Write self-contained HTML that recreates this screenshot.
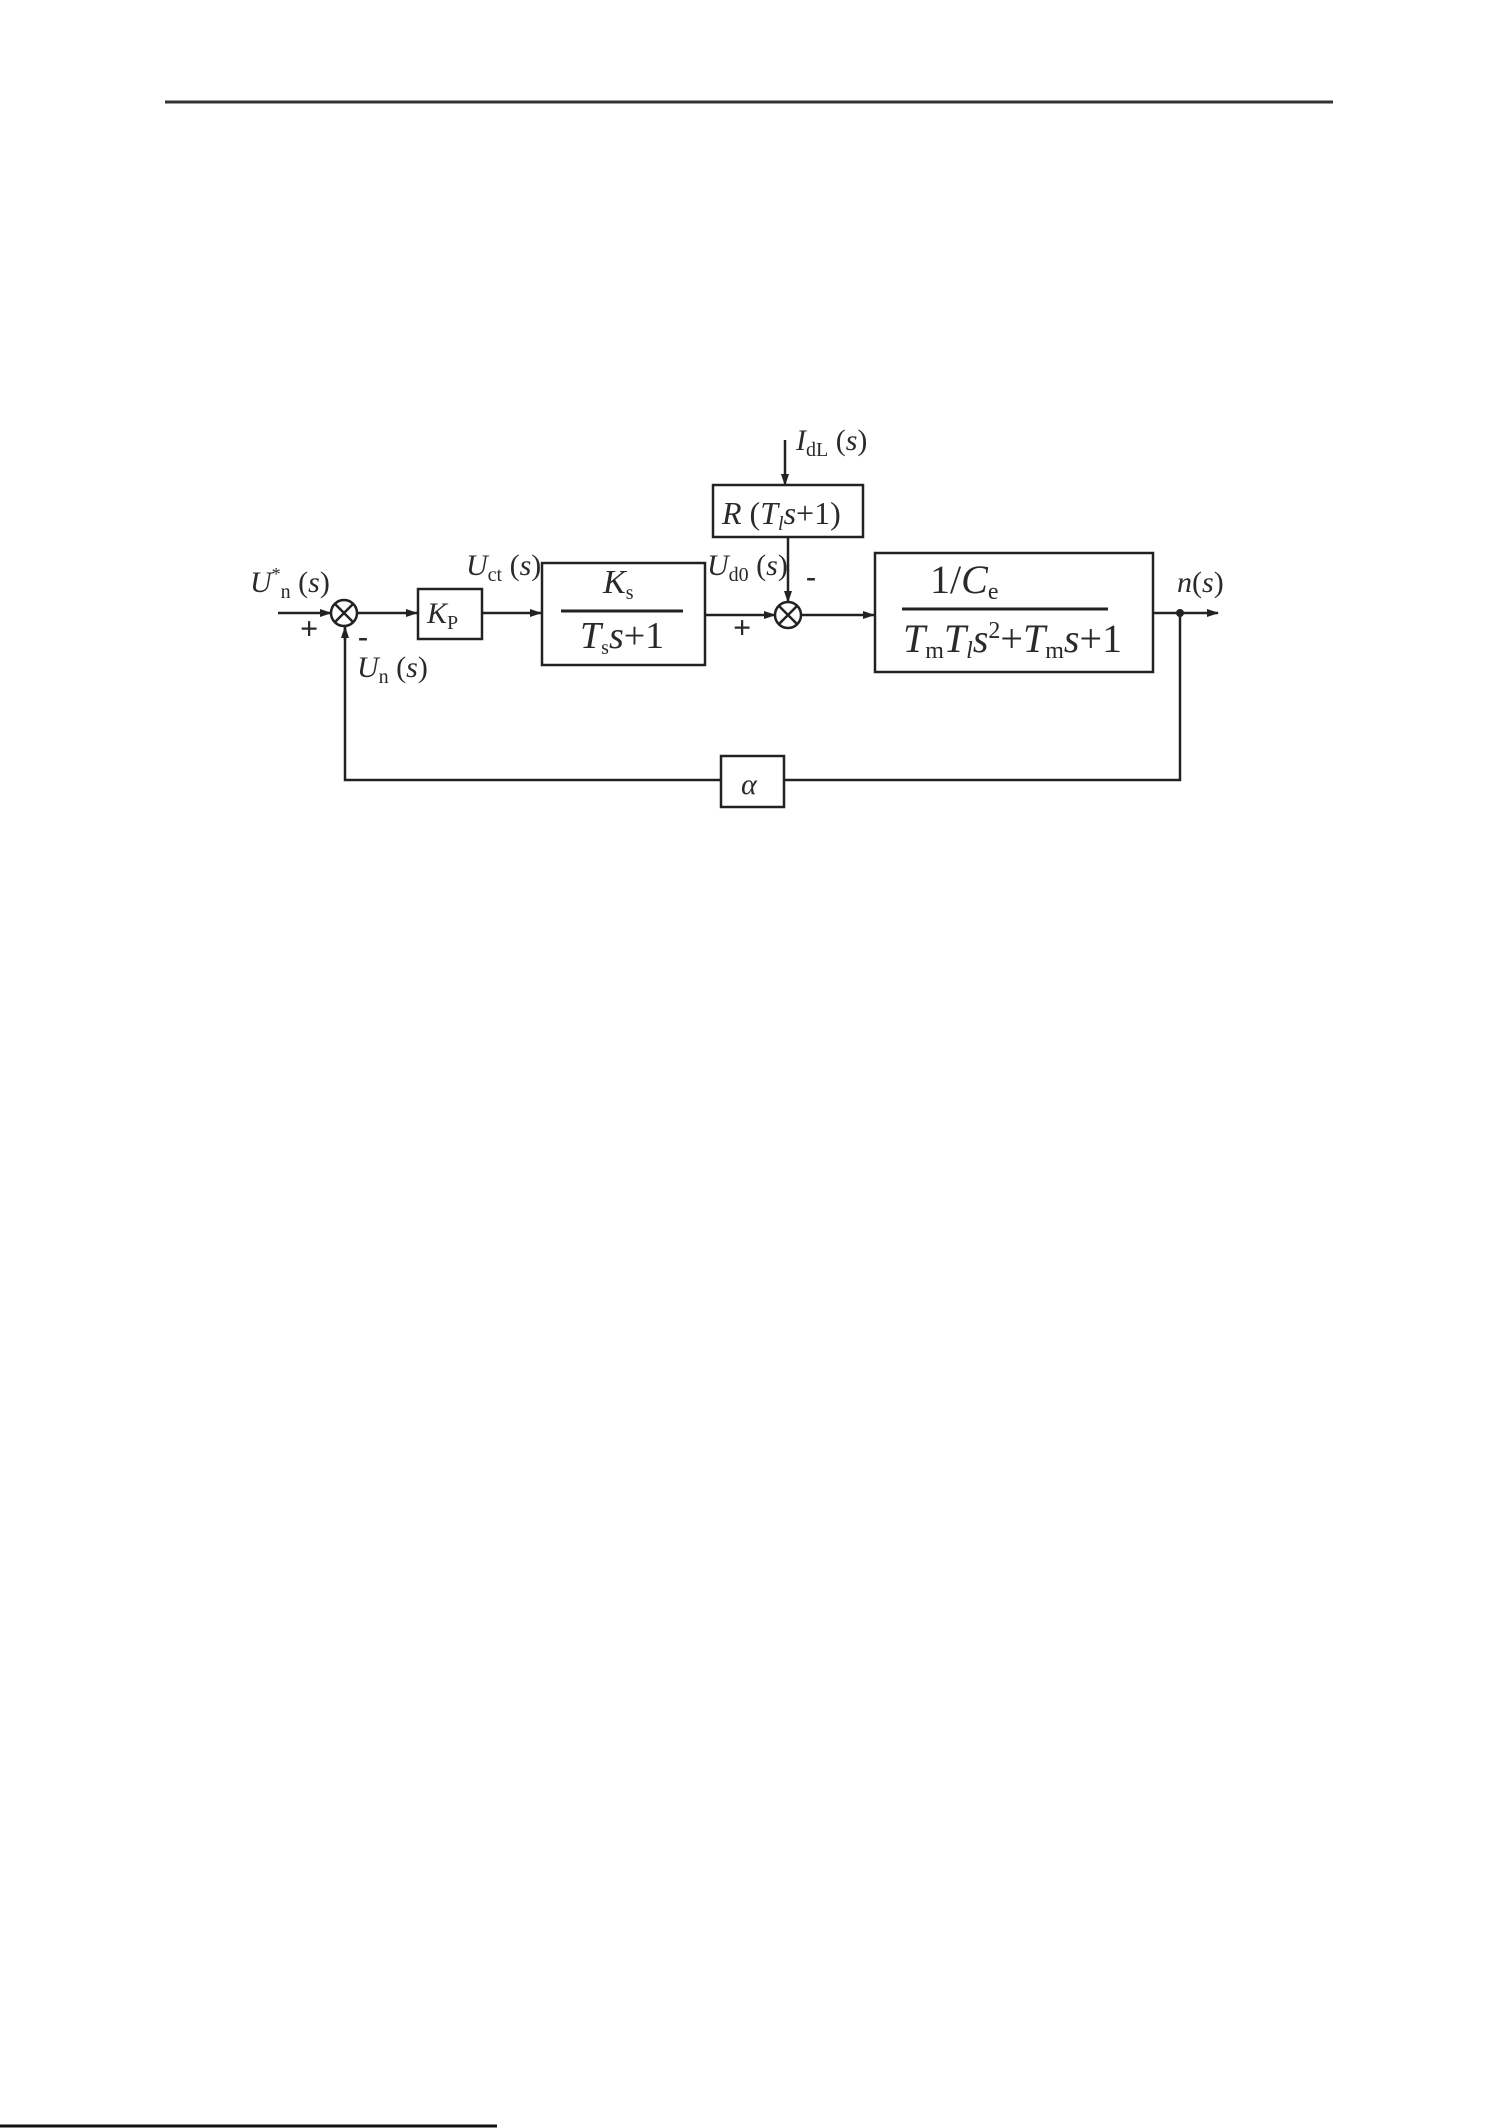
<!DOCTYPE html>
<html><head><meta charset="utf-8"><style>
html,body{margin:0;padding:0;background:#fff;}
svg{display:block;}
text{font-family:"Liberation Serif",serif;fill:#2a2a2a;}
.i{font-style:italic;}
</style></head><body>
<svg width="1498" height="2128" viewBox="0 0 1498 2128" xmlns="http://www.w3.org/2000/svg">
<defs>
<marker id="a" markerWidth="12" markerHeight="10" refX="11" refY="5" orient="auto" markerUnits="userSpaceOnUse">
<path d="M0,1 L12,5 L0,9 Z" fill="#222"/></marker>
</defs>
<line x1="165" y1="102" x2="1333" y2="102" stroke="#333" stroke-width="3"/>
<line x1="0" y1="2126" x2="497" y2="2126" stroke="#111" stroke-width="3"/>
<g stroke="#222" stroke-width="2.5" fill="none">
<line x1="278" y1="613" x2="331" y2="613" marker-end="url(#a)"/>
<circle cx="344" cy="613" r="13"/>
<line x1="335" y1="604" x2="353" y2="622"/><line x1="353" y1="604" x2="335" y2="622"/>
<line x1="357" y1="613" x2="417" y2="613" marker-end="url(#a)"/>
<rect x="418" y="589" width="64" height="50"/>
<line x1="482" y1="613" x2="541" y2="613" marker-end="url(#a)"/>
<rect x="542" y="563" width="163" height="102"/>
<line x1="561" y1="611" x2="683" y2="611" stroke-width="3"/>
<line x1="705" y1="615" x2="775" y2="615" marker-end="url(#a)"/>
<circle cx="788" cy="615" r="13"/>
<line x1="779" y1="606" x2="797" y2="624"/><line x1="797" y1="606" x2="779" y2="624"/>
<line x1="785" y1="440" x2="785" y2="485" marker-end="url(#a)"/>
<rect x="713" y="485" width="150" height="52"/>
<line x1="788" y1="537" x2="788" y2="602" marker-end="url(#a)"/>
<line x1="801" y1="615" x2="874" y2="615" marker-end="url(#a)"/>
<rect x="875" y="553" width="278" height="119"/>
<line x1="902" y1="609" x2="1108" y2="609" stroke-width="3"/>
<line x1="1153" y1="613" x2="1218" y2="613" marker-end="url(#a)"/>
<polyline points="1180,613 1180,780 345,780 345,627"/>
<line x1="345" y1="640" x2="345" y2="627" marker-end="url(#a)"/>
<rect x="721" y="756" width="63" height="51" fill="#fff"/>
</g>
<circle cx="1180" cy="613" r="4" fill="#222"/>
<text x="250" y="592" font-size="30"><tspan class="i">U</tspan><tspan font-size="18" dy="-12">*</tspan><tspan font-size="20" dy="18">n</tspan><tspan dy="-6"> (</tspan><tspan class="i">s</tspan>)</text>
<text x="300" y="639" font-size="32" font-weight="bold">+</text>
<text x="358" y="646" font-size="30" font-weight="bold">-</text>
<text x="357" y="677" font-size="30"><tspan class="i">U</tspan><tspan font-size="20" dy="6">n</tspan><tspan dy="-6"> (</tspan><tspan class="i">s</tspan>)</text>
<text x="427" y="623" font-size="30"><tspan class="i">K</tspan><tspan font-size="20" dy="6">P</tspan></text>
<text x="466" y="575" font-size="30"><tspan class="i">U</tspan><tspan font-size="20" dy="6">ct</tspan><tspan dy="-6"> (</tspan><tspan class="i">s</tspan>)</text>
<text x="603" y="593" font-size="34"><tspan class="i">K</tspan><tspan font-size="20" dy="6">s</tspan></text>
<text x="580" y="648" font-size="38"><tspan class="i">T</tspan><tspan font-size="20" dy="6">s</tspan><tspan class="i" dy="-6">s</tspan>+1</text>
<text x="707" y="575" font-size="30"><tspan class="i">U</tspan><tspan font-size="20" dy="6">d0</tspan><tspan dy="-6"> (</tspan><tspan class="i">s</tspan>)</text>
<text x="733" y="638" font-size="32" font-weight="bold">+</text>
<text x="806" y="586" font-size="30" font-weight="bold">-</text>
<text x="796" y="450" font-size="30"><tspan class="i">I</tspan><tspan font-size="20" dy="6">dL</tspan><tspan dy="-6"> (</tspan><tspan class="i">s</tspan>)</text>
<text x="722" y="524" font-size="32"><tspan class="i">R</tspan> (<tspan class="i">T</tspan><tspan class="i" font-size="20" dy="6">l</tspan><tspan class="i" dy="-6">s</tspan>+1)</text>
<text x="930" y="593" font-size="40">1/<tspan class="i">C</tspan><tspan font-size="24" dy="6">e</tspan></text>
<text x="903" y="652" font-size="40"><tspan class="i">T</tspan><tspan font-size="24" dy="6">m</tspan><tspan class="i" dy="-6">T</tspan><tspan class="i" font-size="24" dy="6">l</tspan><tspan class="i" dy="-6">s</tspan><tspan font-size="24" dy="-14">2</tspan><tspan dy="14">+</tspan><tspan class="i">T</tspan><tspan font-size="24" dy="6">m</tspan><tspan class="i" dy="-6">s</tspan>+1</text>
<text x="1177" y="592" font-size="30"><tspan class="i">n</tspan>(<tspan class="i">s</tspan>)</text>
<text x="741" y="794" font-size="30" class="i">α</text>
</svg>
</body></html>
